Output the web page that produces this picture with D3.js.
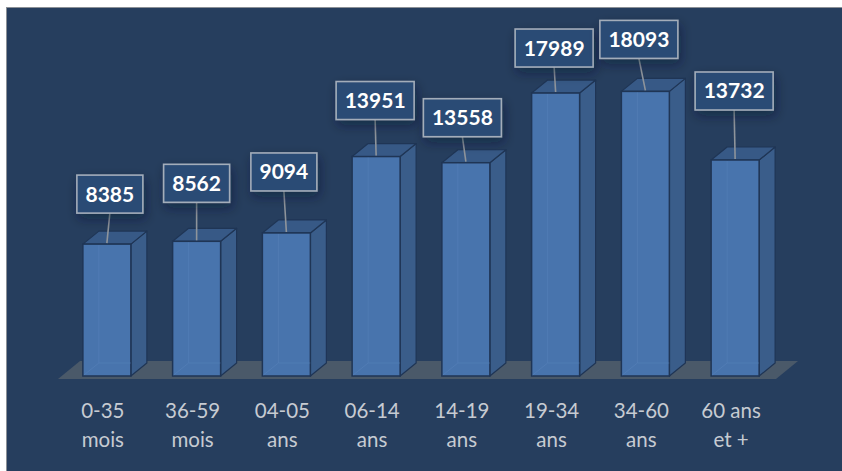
<!DOCTYPE html>
<html>
<head>
<meta charset="utf-8">
<script src="https://cdn.jsdelivr.net/npm/d3@7/dist/d3.min.js"></script>
<style>
  html, body { margin: 0; padding: 0; background: #ffffff; }
  svg { display: block; }
</style>
</head>
<body>
<svg id="chart" width="842" height="471"></svg>
<script>
// Population par tranche d'âge
const categories = ["0-35 mois", "36-59 mois", "04-05 ans", "06-14 ans", "14-19 ans", "19-34 ans", "34-60 ans", "60 ans et +"];
const categoryLines = [["0-35", "mois"], ["36-59", "mois"], ["04-05", "ans"], ["06-14", "ans"], ["14-19", "ans"], ["19-34", "ans"], ["34-60", "ans"], ["60 ans", "et +"]];
const values = [8385, 8562, 9094, 13951, 13558, 17989, 18093, 13732];

// Callout placement: horizontal shift of the box and gap above the bar top
const calloutShift = [3, 0, -2.5, -1, -3.5, -1.5, -6.5, -1];
const calloutGap = [31, 39, 42, 37, 26, 26, 33, 50];

const W = 842, H = 471;
const svg = d3.select("#chart");

const defs = svg.append("defs");
const shadow = defs.append("filter").attr("id", "boxShadow")
  .attr("x", "-40%").attr("y", "-40%").attr("width", "180%").attr("height", "200%");
shadow.append("feDropShadow").attr("dx", 2).attr("dy", 5).attr("stdDeviation", 6)
  .attr("flood-color", "#0c1a2e").attr("flood-opacity", 0.45);

// Panel and frame
svg.append("rect").attr("x", 7).attr("y", 8).attr("width", W - 7).attr("height", H - 8).attr("fill", "#263e5e");
svg.append("line").attr("x1", 6.5).attr("x2", 6.5).attr("y1", 7).attr("y2", H).attr("stroke", "#8b9096").attr("stroke-width", 1);
svg.append("line").attr("x1", 6).attr("x2", W).attr("y1", 7.5).attr("y2", 7.5).attr("stroke", "#8b9096").attr("stroke-width", 1);

// Floor geometry (front edge, depth offset)
const floorFrontY = 379;
const floorDX = 22, floorDY = -18;
const x = d3.scaleBand().domain(categories).range([58, 776]).padding(0);

// Bar geometry
const barW = 48, depthDX = 16, depthDY = -13;
const baseY = 376;
const y = d3.scaleLinear().domain([0, 20000]).range([baseY, baseY - 314.6]);
const barLeft = c => x(c) + x.bandwidth() / 2 + 4 - barW / 2;

// Floor
const x0 = x.range()[0], x1 = x.range()[1];
svg.append("path")
  .attr("d", `M${x0},${floorFrontY} L${x1},${floorFrontY} L${x1 + floorDX},${floorFrontY + floorDY} L${x0 + floorDX},${floorFrontY + floorDY} Z`)
  .attr("fill", "#4a5969");

const data = categories.map((c, i) => ({ c, v: values[i], i }));

const bars = svg.append("g").selectAll("g.bar").data(data).join("g").attr("class", "bar");
const edge = "#1f3555";

// side face
bars.append("path")
  .attr("d", d => {
    const l = barLeft(d.c) + barW, t = y(d.v);
    return `M${l},${baseY} L${l},${t} L${l + depthDX},${t + depthDY} L${l + depthDX},${baseY + depthDY} Z`;
  })
  .attr("fill", "#3a5d8a").attr("stroke", edge).attr("stroke-width", 1.2).attr("stroke-linejoin", "round");

// top face
bars.append("path")
  .attr("d", d => {
    const l = barLeft(d.c), t = y(d.v);
    return `M${l},${t} L${l + barW},${t} L${l + barW + depthDX},${t + depthDY} L${l + depthDX},${t + depthDY} Z`;
  })
  .attr("fill", "#375986").attr("stroke", edge).attr("stroke-width", 1.2).attr("stroke-linejoin", "round");

// front face
bars.append("rect")
  .attr("x", d => barLeft(d.c))
  .attr("y", d => y(d.v))
  .attr("width", barW)
  .attr("height", d => baseY - y(d.v))
  .attr("fill", "#4874ad").attr("stroke", edge).attr("stroke-width", 1.5);

// faint inner back edges seen through the front face
bars.append("path")
  .attr("d", d => {
    const l = barLeft(d.c);
    return `M${l + depthDX},${y(d.v) + depthDY + 14} L${l + depthDX},${baseY + depthDY} L${l + barW},${baseY + depthDY} M${l + 1},${baseY - 1} L${l + depthDX},${baseY + depthDY}`;
  })
  .attr("fill", "none").attr("stroke", "#5a86bd").attr("stroke-width", 1).attr("opacity", 0.45);

// Category labels
const labels = svg.append("g").selectAll("text.cat").data(data).join("text")
  .attr("class", "cat")
  .attr("x", d => x(d.c) + x.bandwidth() / 2)
  .attr("y", 418)
  .attr("text-anchor", "middle")
  .attr("font-family", "Lato, 'Open Sans', sans-serif")
  .attr("font-size", 20.5)
  .attr("fill", "#c6cbd2");
labels.each(function (d) {
  const t = d3.select(this);
  categoryLines[d.i].forEach((line, k) => {
    t.append("tspan").attr("x", x(d.c) + x.bandwidth() / 2).attr("dy", k === 0 ? 0 : 29).text(line);
  });
});

// Value callouts with leader lines
const boxH = 38;
const callouts = svg.append("g").selectAll("g.callout").data(data).join("g").attr("class", "callout");
callouts.each(function (d) {
  const g = d3.select(this);
  const cx = barLeft(d.c) + barW / 2;
  const topY = y(d.v);
  const bx = cx + calloutShift[d.i];
  const bottom = topY - calloutGap[d.i];
  const text = String(d.v);
  const bw = text.length > 4 ? 78 : 66;
  g.append("line")
    .attr("x1", bx).attr("y1", bottom)
    .attr("x2", cx).attr("y2", topY - 1)
    .attr("stroke", "#8e949b").attr("stroke-width", 1.6);
  g.append("rect")
    .attr("x", bx - bw / 2).attr("y", bottom - boxH)
    .attr("width", bw).attr("height", boxH)
    .attr("fill", "#2c4b74").attr("stroke", "#a3adba").attr("stroke-width", 1.6)
    .attr("filter", "url(#boxShadow)");
  g.append("text")
    .attr("x", bx).attr("y", bottom - boxH / 2 + 7.5)
    .attr("text-anchor", "middle")
    .attr("font-family", "Lato, 'Open Sans', sans-serif")
    .attr("font-weight", 700)
    .attr("font-size", 21)
    .attr("fill", "#ffffff")
    .text(text);
});
</script>
</body>
</html>
